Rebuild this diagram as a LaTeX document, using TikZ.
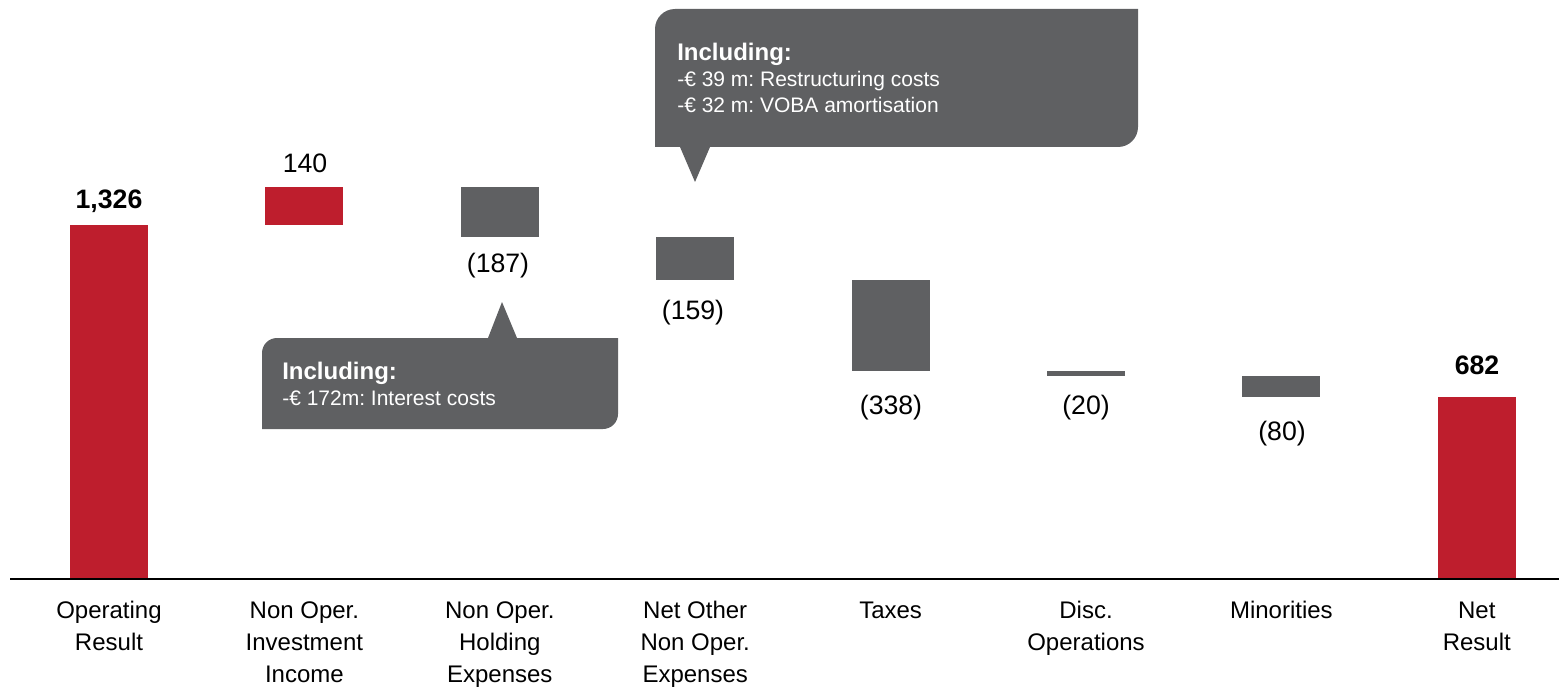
\documentclass[tikz,border=0pt]{standalone}
\usepackage{fontspec}
\setmainfont{Liberation Sans}
\frenchspacing

\definecolor{barred}{HTML}{BE1E2D}
\definecolor{bargray}{HTML}{5F6062}

\tikzset{
  valtext/.style={font=\fontsize{20}{24}\selectfont, anchor=base, inner sep=0pt},
  valbold/.style={font=\fontsize{20}{24}\selectfont\bfseries, anchor=base, inner sep=0pt},
  axtext/.style={font=\fontsize{18}{24}\selectfont, align=center, anchor=base, inner sep=0pt},
  notetext/.style={font=\fontsize{15.75}{19.5}\selectfont, text=white, align=left, anchor=base west, inner sep=0pt}
}

\begin{document}
\begin{tikzpicture}[x=0.75pt, y=-0.75pt]
    \useasboundingbox (0,0) rectangle (1559,688);

    % Bars of the waterfall
    \foreach \i/\ya/\yb/\col in {0/225/579/barred, 1/187/225/barred, 2/187/237/bargray,
        3/237/280/bargray, 4/280/371/bargray, 5/371/376/bargray, 6/376/397/bargray,
        7/397/579/barred}
        \fill[\col] (70+195.4*\i,\ya) rectangle (148+195.4*\i,\yb);

    % Axis line
    \coordinate (axl) at (10,579);
    \coordinate (axr) at (1559,579);
    \draw[line width=1.5pt] (axl) -- (axr);

    % Values above or below the bars
    \node[valbold] (val0) at (109,208) {1,326};
    \node[valtext] (val1) at (305,173) {140};
    \node[valtext] (val2) at (498,272) {(187)};
    \node[valtext] (val3) at (693,319) {(159)};
    \node[valtext] (val4) at (891,414) {(338)};
    \node[valtext] (val5) at (1086,414) {(20)};
    \node[valtext] (val6) at (1282,440) {(80)};
    \node[valbold] (val7) at (1477,374) {682};

    % Category labels under the axis (y = baseline of the last line)
    \foreach \i/\yl/\txt in {0/650/{Operating\\Result}, 1/682/{Non Oper.\\Investment\\Income},
        2/682/{Non Oper.\\Holding\\Expenses}, 3/682/{Net Other\\Non Oper.\\Expenses},
        4/618/{Taxes}, 5/650/{Disc.\\Operations}, 6/618/{Minorities}, 7/650/{Net\\Result}}
        \node[axtext] (lab\i) at (109+195.4*\i,\yl) {\txt};

    % Callout for the holding expenses
    \fill[bargray] (262,429) -- (262,353) arc (180:270:15) -- (488,338) -- (502,302)
        -- (517,338) -- (618,338) -- (618,414) arc (0:90:15) -- cycle;
    \node[notetext] (noteholding) at (282,405)
        {{\fontsize{18}{19.5}\selectfont\bfseries Including:}\\-€ 172m: Interest costs};

    % Callout for the other expenses
    \fill[bargray] (680,147) -- (655,147) -- (655,29) arc (180:270:20) -- (1138,9)
        -- (1138,127) arc (0:90:20) -- (710,147) -- (695,182) -- cycle;
    \node[notetext] (noteother) at (677,113)
        {{\fontsize{18}{19.5}\selectfont\bfseries Including:}\\-€ 39 m: Restructuring costs\\-€ 32 m: VOBA amortisation};
\end{tikzpicture}
\end{document}
